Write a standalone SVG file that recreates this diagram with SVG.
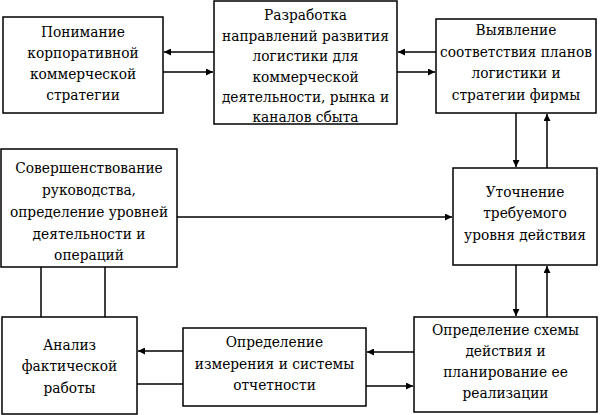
<svg xmlns="http://www.w3.org/2000/svg" width="600" height="415" viewBox="0 0 600 415">
<style>
.box{fill:#fff;stroke:#000;stroke-width:1.5}
.t{font-family:"DejaVu Serif Condensed","DejaVu Serif","Liberation Serif",serif;font-size:15.3px;fill:#000;text-anchor:middle}
.c{stroke:#000;stroke-width:1.5;fill:none}
</style>
<defs>
<marker id="ah" viewBox="0 0 10 10" refX="10" refY="5" markerWidth="9" markerHeight="7" markerUnits="userSpaceOnUse" orient="auto">
<path d="M0,0 L10,5 L0,10 z" fill="#000"/>
</marker>
</defs>
<rect width="600" height="415" fill="#fff"/>
<g id="connectors">
<line class="c" x1="214" y1="52" x2="164" y2="52" marker-end="url(#ah)"/>
<line class="c" x1="163" y1="72" x2="213" y2="72" marker-end="url(#ah)"/>
<line class="c" x1="436" y1="52" x2="398" y2="52" marker-end="url(#ah)"/>
<line class="c" x1="397" y1="72" x2="435" y2="72" marker-end="url(#ah)"/>
<line class="c" x1="516" y1="113" x2="516" y2="167" marker-end="url(#ah)"/>
<line class="c" x1="547" y1="168" x2="547" y2="114" marker-end="url(#ah)"/>
<line class="c" x1="177" y1="217" x2="452" y2="217" marker-end="url(#ah)"/>
<line class="c" x1="516" y1="265" x2="516" y2="316" marker-end="url(#ah)"/>
<line class="c" x1="547" y1="317" x2="547" y2="266" marker-end="url(#ah)"/>
<line class="c" x1="414" y1="352" x2="367" y2="352" marker-end="url(#ah)"/>
<line class="c" x1="366" y1="386" x2="413" y2="386" marker-end="url(#ah)"/>
<line class="c" x1="183" y1="351" x2="138" y2="351" marker-end="url(#ah)"/>
<line class="c" x1="137" y1="384" x2="183" y2="384"/>
<line class="c" x1="41" y1="267" x2="41" y2="317"/>
<line class="c" x1="105" y1="267" x2="105" y2="317"/>
</g>
<g id="n1">
<rect class="box" x="3" y="17" width="160" height="96"/>
<text class="t" x="83" y="37">Понимание</text>
<text class="t" x="83" y="58">корпоративной</text>
<text class="t" x="83" y="79">коммерческой</text>
<text class="t" x="83" y="100">стратегии</text>
</g>
<g id="n2">
<rect class="box" x="214" y="1" width="183" height="123"/>
<text class="t" x="305.5" y="20">Разработка</text>
<text class="t" x="305.5" y="40.5">направлений развития</text>
<text class="t" x="305.5" y="61">логистики для</text>
<text class="t" x="305.5" y="81.5">коммерческой</text>
<text class="t" x="305.5" y="102">деятельности, рынка и</text>
<text class="t" x="305.5" y="122">каналов сбыта</text>
</g>
<g id="n3">
<rect class="box" x="436" y="19" width="160" height="94"/>
<text class="t" x="516" y="35">Выявление</text>
<text class="t" x="516" y="57">соответствия планов</text>
<text class="t" x="516" y="78">логистики и</text>
<text class="t" x="516" y="100">стратегии фирмы</text>
</g>
<g id="n4">
<rect class="box" x="453" y="168" width="144" height="97"/>
<text class="t" x="525" y="197">Уточнение</text>
<text class="t" x="525" y="218">требуемого</text>
<text class="t" x="525" y="240">уровня действия</text>
</g>
<g id="n5">
<rect class="box" x="1" y="149" width="176" height="118"/>
<text class="t" x="89" y="173">Совершенствование</text>
<text class="t" x="89" y="195">руководства,</text>
<text class="t" x="89" y="217">определение уровней</text>
<text class="t" x="89" y="239">деятельности и</text>
<text class="t" x="89" y="260">операций</text>
</g>
<g id="n6">
<rect class="box" x="2" y="317" width="135" height="97"/>
<text class="t" x="69.5" y="350">Анализ</text>
<text class="t" x="69.5" y="371">фактической</text>
<text class="t" x="69.5" y="393">работы</text>
</g>
<g id="n7">
<rect class="box" x="183" y="328" width="183" height="78"/>
<text class="t" x="274.5" y="347">Определение</text>
<text class="t" x="274.5" y="369">измерения и системы</text>
<text class="t" x="274.5" y="390">отчетности</text>
</g>
<g id="n8">
<rect class="box" x="414" y="317" width="183" height="95"/>
<text class="t" x="505.5" y="335">Определение схемы</text>
<text class="t" x="505.5" y="356">действия и</text>
<text class="t" x="505.5" y="377">планирование ее</text>
<text class="t" x="505.5" y="398">реализации</text>
</g>
</svg>
